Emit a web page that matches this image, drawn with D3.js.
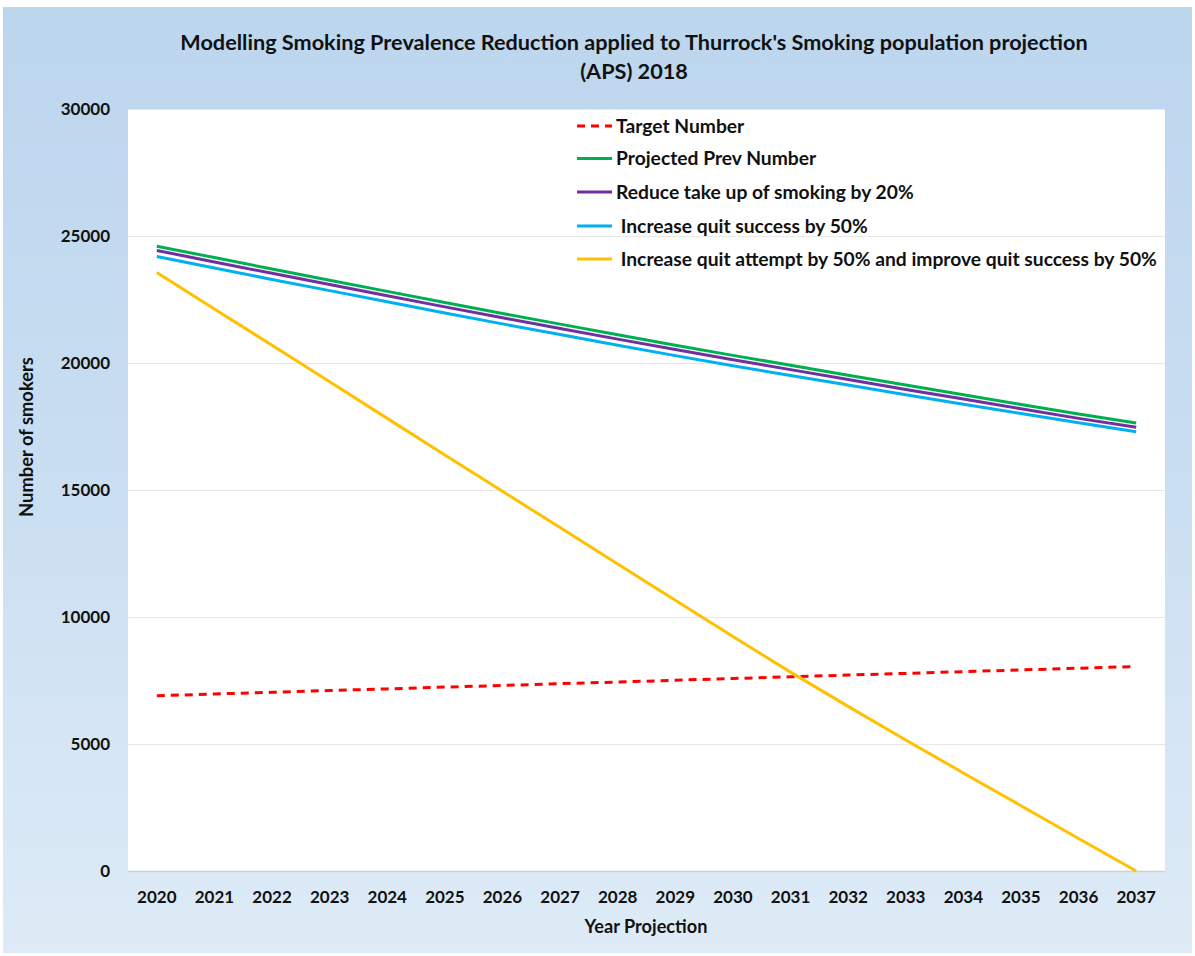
<!DOCTYPE html>
<html>
<head>
<meta charset="utf-8">
<script src="https://cdn.jsdelivr.net/npm/d3@7/dist/d3.min.js"></script>
<style>
  html, body { margin: 0; padding: 0; background: #ffffff; }
  svg { display: block; }
  text { font-family: Lato, "Open Sans", "DejaVu Sans", sans-serif; font-weight: 700; fill: #111; }
</style>
</head>
<body>
<svg id="chart" width="1195" height="956"></svg>
<script>
// ---------- DATA ----------
const years = ["2020","2021","2022","2023","2024","2025","2026","2027","2028","2029","2030","2031","2032","2033","2034","2035","2036","2037"];
const targetNumber    = [6900, 6970, 7035, 7105, 7170, 7240, 7305, 7375, 7440, 7510, 7580, 7645, 7715, 7780, 7850, 7915, 7985, 8050];
const projectedPrev   = [24600, 24150, 23700, 23260, 22820, 22380, 21950, 21530, 21110, 20700, 20300, 19910, 19520, 19130, 18750, 18370, 17990, 17640];
const reduceTakeUp    = [24430, 23980, 23530, 23090, 22650, 22210, 21780, 21360, 20940, 20530, 20130, 19740, 19350, 18960, 18580, 18200, 17820, 17470];
const quitSuccess     = [24190, 23740, 23290, 22850, 22410, 21970, 21540, 21120, 20700, 20290, 19890, 19510, 19130, 18750, 18380, 18010, 17650, 17290];
const quitAttempt     = [23560, 22130, 20700, 19260, 17820, 16380, 14950, 13520, 12090, 10660, 9230, 7830, 6480, 5160, 3860, 2570, 1280, 0];
const yTicks = [0, 5000, 10000, 15000, 20000, 25000, 30000];
const seriesNames = ["Target Number", "Projected Prev Number", "Reduce take up of smoking by 20%", " Increase quit success by 50%", " Increase quit attempt by 50% and improve quit success by 50%"];
const seriesColors = ["#ff0000", "#00b050", "#7030a0", "#00b0f0", "#ffc000"];
const seriesValues = [targetNumber, projectedPrev, reduceTakeUp, quitSuccess, quitAttempt];
const titleLines = ["Modelling Smoking Prevalence Reduction applied to Thurrock's Smoking population projection", "(APS) 2018"];
const xTitle = "Year Projection";
const yTitle = "Number of smokers";

// ---------- LAYOUT ----------
const plot = { left: 128, right: 1165, top: 109, bottom: 871 };
const svg = d3.select("#chart");

function fit(sel, target) {
  const node = sel.node();
  const fs = parseFloat(sel.style("font-size"));
  const w = node.getComputedTextLength();
  if (w > 0) sel.style("font-size", (fs * target / w) + "px");
  return parseFloat(sel.style("font-size"));
}

// background gradient
const defs = svg.append("defs");
const grad = defs.append("linearGradient").attr("id", "bg").attr("x1", 0).attr("y1", 0).attr("x2", 0).attr("y2", 1);
grad.append("stop").attr("offset", "0%").attr("stop-color", "#bcd6ee");
grad.append("stop").attr("offset", "45%").attr("stop-color", "#c8ddf1");
grad.append("stop").attr("offset", "100%").attr("stop-color", "#deebf7");
svg.append("rect").attr("x", 3).attr("y", 7).attr("width", 1189).attr("height", 946).attr("fill", "url(#bg)");

// plot area
svg.append("rect").attr("x", plot.left).attr("y", plot.top)
  .attr("width", plot.right - plot.left).attr("height", plot.bottom - plot.top).attr("fill", "#ffffff");

const x = d3.scaleBand().domain(years).range([plot.left, plot.right]);
const xc = d => x(d) + x.bandwidth() / 2;
const y = d3.scaleLinear().domain([0, 30000]).range([plot.bottom, plot.top]);

// gridlines
svg.append("g").attr("transform", `translate(${plot.left},0)`)
  .call(d3.axisLeft(y).tickValues(yTicks.filter(t => t > 0)).tickSize(-(plot.right - plot.left)).tickFormat(""))
  .call(g => g.select(".domain").remove())
  .call(g => g.selectAll("line").attr("stroke", "#e8e8e8").attr("stroke-width", 1));

// y axis labels
svg.append("g").attr("transform", `translate(${plot.left},0)`)
  .call(d3.axisLeft(y).tickValues(yTicks).tickSize(0).tickPadding(18).tickFormat(d3.format("d")))
  .call(g => g.select(".domain").remove())
  .call(g => g.selectAll("text").style("font-size", "17px").style("font-family", null).attr("fill", "#111"));

// x axis
svg.append("g").attr("transform", `translate(0,${plot.bottom})`)
  .call(d3.axisBottom(x).tickSize(0).tickPadding(20))
  .call(g => g.select(".domain").attr("stroke", "#d0d0d0").attr("stroke-width", 1.5))
  .call(g => g.selectAll("text").style("font-size", "17px").style("font-family", null).attr("fill", "#111"));

// lines
const line = d3.line().x((d, i) => xc(years[i])).y(d => y(d));
seriesValues.forEach((vals, i) => {
  svg.append("path").datum(vals)
    .attr("d", line)
    .attr("fill", "none")
    .attr("stroke", seriesColors[i])
    .attr("stroke-width", 3)
    .attr("stroke-dasharray", i === 0 ? "8,6" : null);
});

// legend
const legendRows = [126, 158.5, 192, 226, 259];
const legendTexts = [];
seriesNames.forEach((name, i) => {
  const gy = legendRows[i];
  svg.append("line").attr("x1", 577).attr("x2", 612).attr("y1", gy).attr("y2", gy)
    .attr("stroke", seriesColors[i]).attr("stroke-width", 3)
    .attr("stroke-dasharray", i === 0 ? "8,6" : null);
  legendTexts.push(svg.append("text").attr("x", 616).attr("y", gy).attr("dy", "0.35em")
    .style("white-space", "pre").style("font-size", "16px").text(name));
});
const lfs = fit(legendTexts[legendTexts.length - 1], 541);
legendTexts.forEach(t => t.style("font-size", lfs + "px"));

// title
const t1 = svg.append("text").attr("x", 634).attr("y", 50).attr("text-anchor", "middle")
  .style("font-size", "20px").text(titleLines[0]);
fit(t1, 908);
svg.append("text").attr("x", 634).attr("y", 79).attr("text-anchor", "middle")
  .style("font-size", t1.style("font-size")).text(titleLines[1]);

// axis titles
const xt = svg.append("text").attr("x", 646).attr("y", 933).attr("text-anchor", "middle")
  .style("font-size", "16px").text(xTitle);
fit(xt, 123);
const yt = svg.append("text").attr("transform", "translate(33,437) rotate(-90)").attr("text-anchor", "middle")
  .style("font-size", "16px").text(yTitle);
fit(yt, 160);
</script>
</body>
</html>
